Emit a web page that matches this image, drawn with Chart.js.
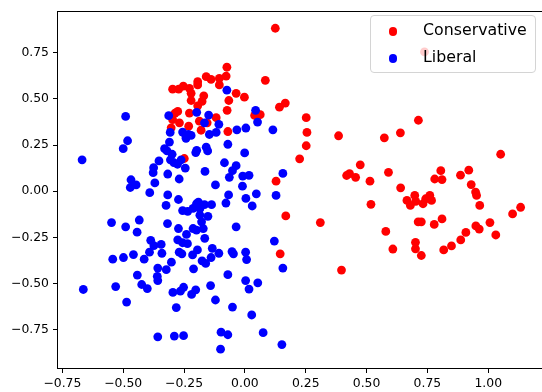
<!DOCTYPE html>
<html lang="en">
<head>
  <meta charset="UTF-8" />
  <title>Conservative vs Liberal</title>
  <script src="https://cdn.jsdelivr.net/npm/chart.js"></script>
  <style>
    html, body { margin: 0; padding: 0; background: #fff; overflow: hidden; }
    #wrap { position: relative; width: 548px; height: 392px; }
    #legend {
      position: absolute; left: 370px; top: 15px; width: 166px; height: 58px;
      box-sizing: border-box; border: 1px solid #d4d4d4; border-radius: 4px;
      background: rgba(255, 255, 255, 0.8);
    }
    .legend-dot { position: absolute; width: 8.8px; height: 8.8px; border-radius: 50%; }
    .legend-label {
      position: absolute; height: 20px; line-height: 20px; white-space: nowrap;
      font-family: "DejaVu Sans", sans-serif; font-size: 15.8px; color: #000;
    }
  </style>
</head>
<body>
  <div id="wrap">
    <canvas id="chart"></canvas>
    <div id="legend"></div>
  </div>

  <script>
    // series names and colours
    const seriesNames = ['Conservative', 'Liberal'];
    const seriesColors = ['red', 'blue'];

    // points, [x, y]
    const conservativePoints = [
      [0.125, 0.882], [-0.074, 0.671], [-0.077, 0.623], [-0.159, 0.620], [-0.139, 0.605],
      [-0.105, 0.611], [-0.105, 0.575], [-0.194, 0.593], [-0.194, 0.575], [-0.297, 0.552],
      [-0.272, 0.552], [-0.253, 0.569], [-0.228, 0.557], [-0.221, 0.530], [-0.221, 0.491],
      [-0.169, 0.516], [-0.176, 0.486], [-0.194, 0.462], [-0.036, 0.530], [-0.002, 0.509],
      [-0.066, 0.491], [-0.073, 0.438], [0.084, 0.600], [0.142, 0.455], [0.166, 0.477],
      [0.252, 0.398], [0.255, 0.318], [0.252, 0.246], [-0.276, 0.432], [-0.297, 0.387],
      [-0.269, 0.370], [-0.228, 0.423], [-0.231, 0.352], [-0.187, 0.379], [-0.180, 0.330],
      [-0.118, 0.398], [-0.070, 0.323], [0.040, 0.410], [0.063, 0.414], [-0.303, 0.343],
      [-0.287, 0.423], [-0.249, 0.177], [-0.155, 0.370], [0.225, 0.175], [0.128, 0.054],
      [0.168, -0.134], [0.145, -0.339], [0.310, -0.170], [0.385, 0.300], [0.397, -0.427],
      [0.418, 0.085], [0.430, 0.095], [0.455, 0.075], [0.474, 0.143], [0.514, 0.054],
      [0.518, -0.071], [0.573, 0.289], [0.590, 0.102], [0.579, -0.218], [0.608, -0.313],
      [0.639, 0.316], [0.640, 0.018], [0.713, 0.384], [0.738, 0.754], [0.666, -0.050],
      [0.680, -0.077], [0.698, -0.023], [0.702, -0.055], [0.732, -0.068], [0.760, -0.023],
      [0.767, -0.050], [0.743, -0.041], [0.712, -0.166], [0.725, -0.166], [0.778, -0.180],
      [0.810, -0.150], [0.701, -0.277], [0.701, -0.312], [0.725, -0.348], [0.817, -0.318],
      [0.849, -0.296], [0.887, -0.264], [0.908, -0.223], [0.949, -0.188], [0.963, -0.205],
      [1.007, -0.170], [1.031, -0.237], [1.100, -0.123], [1.133, -0.087], [1.051, 0.200],
      [0.805, 0.111], [0.780, 0.066], [0.810, 0.063], [0.886, 0.087], [0.920, 0.114],
      [0.930, 0.036], [0.948, -0.005], [0.952, -0.023], [0.965, -0.077]
    ];

    const liberalPoints = [
      [-0.669, 0.170], [-0.664, -0.532], [-0.490, 0.405], [-0.482, 0.273], [-0.500, 0.230],
      [-0.468, 0.062], [-0.471, 0.020], [-0.447, 0.034], [-0.375, 0.127], [-0.377, 0.100],
      [-0.370, 0.045], [-0.391, -0.008], [-0.353, 0.164], [-0.548, -0.170], [-0.490, -0.193],
      [-0.434, -0.156], [-0.443, -0.222], [-0.387, -0.266], [-0.374, -0.295], [-0.392, -0.330],
      [-0.414, -0.368], [-0.458, -0.343], [-0.543, -0.368], [-0.499, -0.359], [-0.442, -0.454],
      [-0.424, -0.505], [-0.401, -0.527], [-0.531, -0.516], [-0.486, -0.600], [-0.358, -0.416],
      [-0.360, -0.461], [-0.358, -0.484], [-0.344, -0.288], [-0.341, -0.336], [-0.323, -0.425],
      [-0.302, -0.384], [-0.318, -0.175], [-0.324, -0.077], [-0.317, -0.020], [-0.317, 0.093],
      [-0.358, -0.788], [-0.290, -0.784], [-0.252, -0.782], [-0.282, -0.630], [-0.296, -0.548],
      [-0.265, -0.541], [-0.252, -0.520], [-0.219, -0.559], [-0.202, -0.534], [-0.211, -0.420],
      [-0.195, -0.318], [-0.215, -0.345], [-0.270, -0.330], [-0.259, -0.339], [-0.276, -0.263],
      [-0.256, -0.279], [-0.236, -0.284], [-0.273, -0.202], [-0.240, -0.234], [-0.273, -0.045],
      [-0.256, -0.105], [-0.235, -0.109], [-0.213, -0.093], [-0.199, -0.068], [-0.191, -0.059],
      [-0.185, -0.095], [-0.185, -0.130], [-0.178, -0.166], [-0.213, -0.202], [-0.199, -0.211],
      [-0.171, -0.202], [-0.165, -0.255], [-0.166, -0.073], [-0.137, -0.073], [-0.152, -0.136],
      [-0.134, -0.309], [-0.107, -0.336], [-0.139, -0.359], [-0.176, -0.377], [-0.161, -0.391],
      [-0.141, -0.511], [-0.121, -0.589], [-0.070, -0.452], [-0.051, -0.627], [-0.098, -0.763],
      [-0.070, -0.777], [-0.100, -0.855], [0.028, -0.670], [0.075, -0.766], [0.152, -0.830],
      [0.003, -0.484], [0.017, -0.530], [0.053, -0.496], [0.003, -0.330], [0.007, -0.370],
      [-0.053, -0.327], [-0.047, -0.339], [-0.036, -0.193], [0.121, -0.270], [0.156, -0.416],
      [0.030, -0.080], [0.047, -0.014], [0.004, -0.039], [-0.067, -0.020], [-0.078, -0.064],
      [-0.010, 0.027], [-0.121, 0.034], [-0.064, 0.075], [-0.051, 0.111], [-0.036, 0.138],
      [-0.084, 0.154], [-0.009, 0.082], [0.017, 0.086], [-0.164, 0.107], [0.128, -0.023],
      [0.156, 0.096], [0.115, 0.332], [0.044, 0.438], [0.052, 0.374], [0.004, 0.342],
      [-0.033, 0.332], [-0.001, 0.207], [-0.070, 0.254], [-0.074, 0.547], [-0.107, 0.362],
      [-0.118, 0.318], [-0.146, 0.307], [-0.149, 0.412], [-0.166, 0.370], [-0.198, 0.427],
      [-0.159, 0.238], [-0.153, 0.218], [-0.202, 0.209], [-0.198, 0.221], [-0.242, 0.298],
      [-0.256, 0.320], [-0.232, 0.307], [-0.221, 0.302], [-0.242, 0.286], [-0.313, 0.409],
      [-0.307, 0.318], [-0.310, 0.266], [-0.330, 0.230], [-0.320, 0.218], [-0.299, 0.200],
      [-0.306, 0.170], [-0.292, 0.155], [-0.277, 0.146], [-0.245, 0.125], [-0.270, 0.066],
      [-0.262, 0.170]
    ];

    // tick labels
    const xTicks = [-0.75, -0.5, -0.25, 0, 0.25, 0.5, 0.75, 1.0];
    const yTicks = [-0.75, -0.5, -0.25, 0, 0.25, 0.5, 0.75];

    const X_MIN = -0.768, X_MAX = 1.225;
    const Y_MIN = -0.957, Y_MAX = 0.973;
    const TICK_FONT = { family: 'DejaVu Sans', size: 12.4 };

    const fmt = v => v.toFixed(2).replace('-', '\u2212');
    const toXY = pts => pts.map(([x, y]) => ({ x, y }));

    // matplotlib-style box round the axes
    const framePlugin = {
      id: 'frame',
      afterDraw(chart) {
        const { ctx, chartArea: a } = chart;
        ctx.save();
        ctx.strokeStyle = '#000';
        ctx.lineWidth = 1;
        ctx.strokeRect(Math.round(a.left) - 0.5, Math.round(a.top) + 0.5,
          Math.round(a.right - a.left) + 1, Math.round(a.bottom - a.top));
        ctx.restore();
      }
    };

    const allPoints = [conservativePoints, liberalPoints];

    new Chart(document.getElementById('chart'), {
      type: 'scatter',
      data: {
        datasets: allPoints.map((pts, i) => ({
          label: seriesNames[i],
          data: toXY(pts),
          backgroundColor: seriesColors[i],
          borderColor: seriesColors[i],
          borderWidth: 0,
          pointRadius: 4.4,
          pointHoverRadius: 4.4,
          order: allPoints.length - 1 - i
        }))
      },
      options: {
        responsive: true,
        maintainAspectRatio: false,
        animation: false,
        devicePixelRatio: 1,
        layout: { padding: { top: 7, right: 5, left: 0, bottom: 0 } },
        plugins: { legend: { display: false }, tooltip: { enabled: false } },
        scales: {
          x: {
            type: 'linear',
            min: X_MIN,
            max: X_MAX,
            afterBuildTicks: s => { s.ticks = xTicks.map(v => ({ value: v })); },
            afterFit: s => { s.height = 24; },
            grid: { drawOnChartArea: false, tickLength: 5, tickColor: '#000', tickWidth: 1 },
            border: { display: false },
            ticks: { color: '#000', font: TICK_FONT, padding: 3, maxRotation: 0, autoSkip: false, callback: v => fmt(v) }
          },
          y: {
            type: 'linear',
            min: Y_MIN,
            max: Y_MAX,
            afterBuildTicks: s => { s.ticks = yTicks.map(v => ({ value: v })); },
            afterFit: s => { s.width = 58; },
            grid: { drawOnChartArea: false, tickLength: 5, tickColor: '#000', tickWidth: 1 },
            border: { display: false },
            ticks: { color: '#000', font: TICK_FONT, padding: 4, autoSkip: false, callback: v => fmt(v) }
          }
        }
      },
      plugins: [framePlugin]
    });

    // legend, drawn over the plot with a see-through white box
    const wrap = document.getElementById('wrap');
    const rowCenters = [31.5, 58.5];
    seriesNames.forEach((name, i) => {
      const dot = document.createElement('div');
      dot.className = 'legend-dot';
      dot.style.background = seriesColors[i];
      dot.style.left = (393 - 4.4) + 'px';
      dot.style.top = (rowCenters[i] - 4.4) + 'px';
      wrap.appendChild(dot);

      const label = document.createElement('div');
      label.className = 'legend-label';
      label.textContent = name;
      label.style.left = '423px';
      label.style.top = (rowCenters[i] - 11.5) + 'px';
      wrap.appendChild(label);
    });
  </script>
</body>
</html>
